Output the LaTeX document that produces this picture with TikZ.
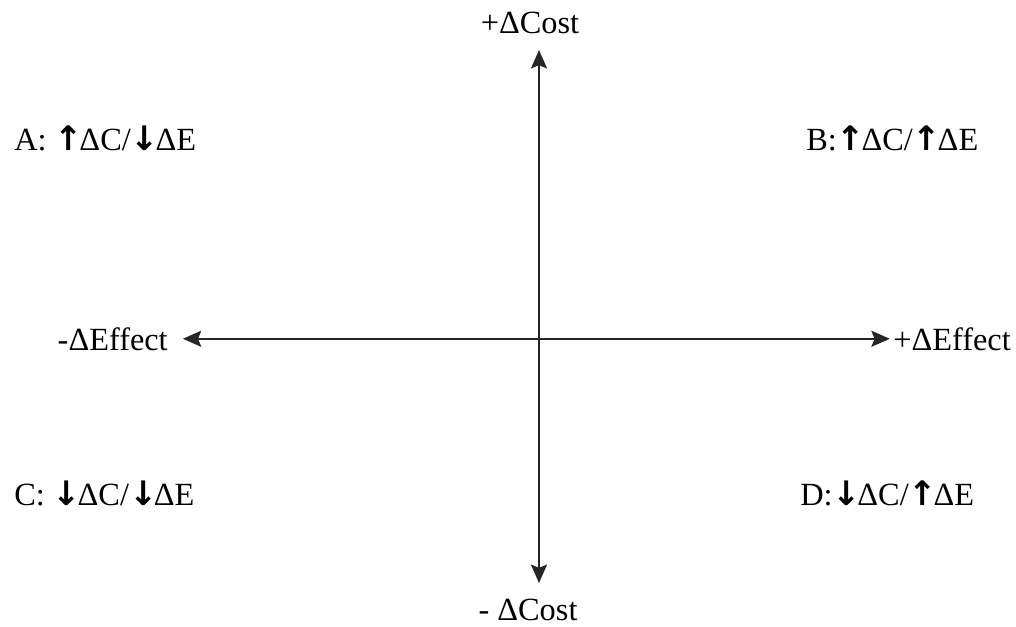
\documentclass[tikz,border=0pt]{standalone}
\usepackage{fontspec}
\setmainfont{Liberation Serif}
\newfontfamily\arrowfont{DejaVu Sans Bold}
\newcommand{\arU}{{\arrowfont\fontsize{24}{28}\selectfont ↑}\kern-2.5pt}
\newcommand{\arD}{{\arrowfont\fontsize{24}{28}\selectfont ↓}\kern-2.5pt}
\usetikzlibrary{arrows.meta}

\begin{document}
\begin{tikzpicture}[x=0.025cm,y=-0.025cm,lbl/.style={inner sep=0pt,font=\fontsize{23}{28}\selectfont},ax/.style={{Stealth[length=4.6mm,width=4mm,inset=0.8mm]}-{Stealth[length=4.6mm,width=4mm,inset=0.8mm]},line width=1.4pt,draw=black!85}]
\useasboundingbox (0,0) rectangle (1016,626);
% axis labels
\node[lbl,anchor=base] (costp) at (530,33) {+ΔCost};
\node[lbl,anchor=base] (costm) at (528,620) {- ΔCost};
\node[lbl,anchor=base east] (effm) at (168,350) {-ΔEffect};
\node[lbl,anchor=base west] (effp) at (893,350) {+ΔEffect};
\coordinate (ctop) at (539,50);
\coordinate (cbot) at (539,583);
\draw[ax] (cbot) -- (ctop);
\draw[ax,shorten <=3.7mm,shorten >=0.8mm] (effm) -- (effp);
% quadrants
\node[lbl,anchor=base west] (qa) at (14,150) {A: \arU ΔC/\arD ΔE};
\node[lbl,anchor=base west] (qb) at (806,150) {B:\arU ΔC/\arU ΔE};
\node[lbl,anchor=base west] (qc) at (14,505) {C: \arD ΔC/\arD ΔE};
\node[lbl,anchor=base west] (qd) at (800,505) {D:\arD ΔC/\arU ΔE};
\end{tikzpicture}
\end{document}
